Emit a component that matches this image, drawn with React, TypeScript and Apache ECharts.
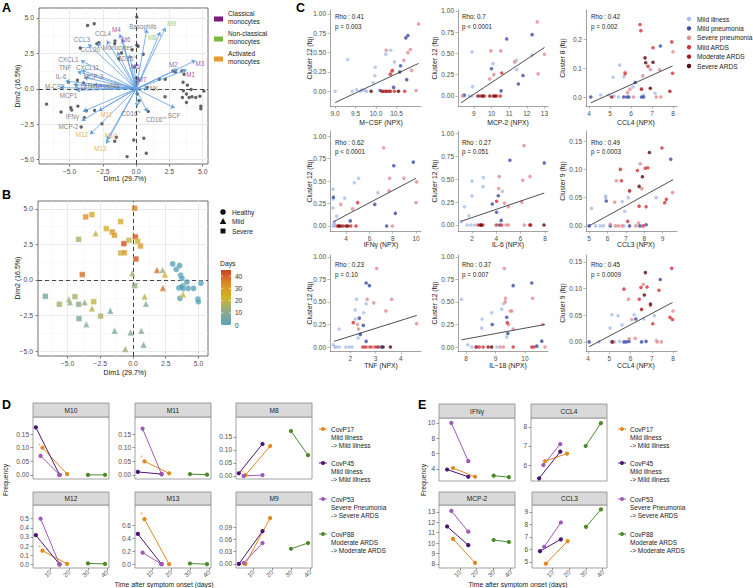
import React, { useEffect, useRef } from "react";
import * as echarts from "echarts";

const FONT = "'Liberation Sans', Arial, Helvetica, sans-serif";

// ================= Panel A : PCA biplot =================
// [name, group, arrowTipX, arrowTipY, labelX, labelY]
const pcaLoadings: [string, string, number, number, number, number][] = [
  ["Basophils", "var", 0.8, 4.2, 0.5, 4.4],
  ["M9", "non", 2.2, 4.3, 2.67, 4.64],
  ["M8", "non", 1.8, 4.0, 1.21, 3.65],
  ["M4", "cla", -1.23, 3.85, -1.49, 4.17],
  ["M6", "cla", -1.05, 3.5, -0.76, 3.47],
  ["CCL4", "var", -2.2, 3.4, -2.49, 3.89],
  ["CCL3", "var", -3.6, 3.15, -4.08, 3.47],
  ["CCL20", "var", -2.9, 3.25, -3.45, 2.76],
  ["Monocytes", "var", -1.4, 2.6, -1.39, 2.88],
  ["CD16^lo", "var", -0.5, 2.4, -0.68, 2.13],
  ["M5", "cla", -0.15, 1.7, -0.05, 1.55],
  ["M7", "cla", 0.2, 0.8, 0.45, 0.66],
  ["M2", "cla", 3.15, 1.4, 2.8, 1.71],
  ["M3", "cla", 4.45, 2.0, 4.79, 1.78],
  ["M1", "cla", 3.8, 1.35, 4.1, 1.03],
  ["NK", "var", 0.9, 0.02, 1.33, 0.0],
  ["SCF", "var", 2.9, -1.35, 2.85, -1.85],
  ["CD16^int", "var", 0.83, -1.62, 1.51, -2.13],
  ["CD16^hi", "var", 0.08, -1.26, -0.38, -1.73],
  ["M11", "act", -2.8, -1.55, -2.24, -1.8],
  ["M10", "act", -2.2, -3.6, -1.89, -3.26],
  ["M12", "act", -3.45, -3.2, -4.08, -3.21],
  ["M13", "act", -2.25, -3.85, -2.7, -4.24],
  ["MCP-2", "var", -4.1, -2.25, -5.09, -2.67],
  ["IFNγ", "var", -4.0, -1.6, -4.79, -1.97],
  ["MCP1", "var", -4.5, -0.1, -5.09, -0.44],
  ["M-CSF", "var", -5.7, 0.08, -6.1, 0.19],
  ["IL18", "var", -4.7, 0.3, -4.16, 0.16],
  ["Neutrophils", "var", -3.2, 0.3, -2.44, 0.26],
  ["IL-6", "var", -5.3, 0.55, -5.64, 0.89],
  ["TNF", "var", -4.4, 1.2, -5.34, 1.5],
  ["CXCL1", "var", -4.15, 2.0, -5.09, 2.06],
  ["CXCL11", "var", -4.1, 1.3, -3.65, 1.5],
  ["MCP-3", "var", -3.9, 0.8, -3.2, 0.89],
];

const pcaScores: number[][] = [
  [0.05, 5.06], [-3.65, 4.47], [-3.15, 4.59], [-1.59, 3.37], [-1.61, 3.18], [-2.8, 3.26], [-2.95, 3.18],
  [-4.2, 2.88], [0.05, 3.07], [0.15, 3.0], [0.53, 2.44], [-1.1, 2.53], [-1.31, 2.13], [-0.3, 2.76],
  [-0.13, 1.55], [0.03, 0.49], [0, 0.77], [1.74, 0.68], [2.19, 0.68], [2.77, 1.26], [2.95, 1.19],
  [3.43, 1.26], [3.6, 1.03], [3.53, 0.47], [3.85, 0.26], [4.13, -0.05], [3.55, -0.14], [3.78, -0.37],
  [3.98, -0.61], [4.2, -0.56], [4.48, -0.61], [3.48, -0.61], [3.78, -0.96], [4.86, -1.22], [4.86, -1.4],
  [5.09, -0.16], [4.79, -0.52], [2.17, -0.56], [-6.73, -1.08], [-5.64, -1.64], [-4.91, -1.33],
  [-4.84, -1.5], [-4.38, -1.22], [-3.75, -1.55], [-3.12, -1.52], [-3.9, -2.04], [-4.13, -2.69],
  [-2.57, -2.46], [-1.49, -3.42], [-1.61, -3.7], [-0.18, -3.61], [0.58, -3.49], [0.76, -4.54],
  [-0.68, -4.78], [0.08, -0.37], [0.23, -0.84], [0.91, -1.59], [-3.95, 0.42], [-5.09, 0.47],
  [0.83, 0.1], [-4.41, 0.61],
];

const pcaTicks = [-5, -2.5, 0, 2.5, 5];

// ================= Panel B : PCA individuals [Dim1, Dim2, days] =================
const bHealthy: number[][] = [
  [3.03, 1.13, 0], [3.31, 0.75, 0], [3.56, 1.01, 0], [3.64, 0.33, 0], [3.74, 0.12, 0], [4.12, -0.14, 0],
  [3.51, -0.56, 0], [3.82, -0.42, 0], [3.84, -0.61, 0], [4.22, -0.59, 0], [4.63, -0.59, 0], [5.19, -0.23, 0],
  [3.59, -1.29, 0], [4.96, -1.34, 0], [4.99, -1.53, 0], [3.7, -0.5, 0],
];
const bMild: number[][] = [
  [-2.85, 3.29, 20], [-0.05, 0.47, 15], [1.83, 0.7, 38], [2.26, 0.7, 12], [2.44, 0.38, 22], [2.29, -0.56, 38],
  [3.82, -1.0, 22], [0.89, -1.17, 18], [0.99, -1.67, 10], [-4.89, -1.36, 15], [-4.81, -1.57, 12],
  [-3.69, -1.57, 12], [-3.13, -2.0, 18], [-1.73, -2.16, 5], [-3.56, -3.12, 10], [-1.4, -3.57, 6],
  [-0.18, -3.69, 9], [0.64, -3.57, 10], [-0.59, -4.86, 14], [0.81, -4.55, 7],
];
const bSevere: number[][] = [
  [0.13, 5.05, 35], [-3.61, 4.44, 32], [-3.13, 4.6, 25], [-0.94, 4.11, 25], [-2.04, 3.62, 22], [-1.58, 3.38, 33],
  [-1.42, 3.15, 30], [-4.15, 2.86, 15], [-0.31, 2.79, 20], [0.18, 3.03, 42], [0.36, 2.72, 22], [0.58, 2.39, 30],
  [-0.69, 2.56, 42], [-0.94, 1.9, 20], [-0.66, 1.92, 30], [0.23, 1.48, 42], [-3.87, 0.38, 38], [0.13, -0.4, 12],
  [-6.69, -1.15, 5], [-5.62, -1.71, 15], [-4.43, -1.17, 15], [-4.15, -1.71, 10], [-3.0, -1.53, 20],
  [-4.12, -2.72, 7], [-2.47, -2.54, 17],
];
const dayColors = ["#5aa2b9", "#8fab8b", "#d2b327", "#e08a28", "#c8421f"];
const dayLegendTicks = [0, 10, 20, 30, 40];

// ================= Panel C : correlations [x, y, group] =================
const groupNames = ["Mild illness", "Mild pneumonia", "Severe pneumonia", "Mild ARDS", "Moderate ARDS", "Severe ARDS"];
const groupColors = ["#a9bfe9", "#3c4ea6", "#e28b8e", "#d2333a", "#a51519", "#5a0a0e"];

const mcsfPts = [
  [9.0, 0, 0], [9.31, 0.41, 0], [9.42, 0, 0], [9.53, 0.02, 0], [9.62, 0, 0], [9.66, 0.02, 0], [9.73, 0.01, 0], [9.77, 0, 0],
  [9.93, 0.11, 0], [9.97, 0.2, 0], [9.98, 0.31, 0], [10.24, 0.48, 0], [10.36, 0.53, 0], [10.45, 0.38, 0],
  [10.73, 0.69, 1], [10.78, 0.72, 1], [10.75, 0.15, 1], [10.58, 0.25, 1], [10.6, 0.33, 1], [10.43, 0.05, 1], [10.1, 0.01, 1],
  [10.25, 0.53, 2], [10.375, 0.25, 2], [10.68, 0.4, 2], [10.78, 0.5, 2], [10.84, 0.54, 2], [11.04, 0.87, 2], [10.87, 0.27, 2], [10.98, 0.01, 2],
  [10.35, 0.22, 3], [10.4, 0.27, 3], [10.2, 0, 3], [10.3, 0, 3], [10.45, 0, 3], [10.7, 0, 3],
  [10.15, 0, 4], [10.25, 0, 4], [10.35, 0, 4],
  [9.88, 0, 5], [10.55, 0, 5],
];
const mcsfFit = [[9.0, -0.146], [11.04, 0.36]];

const mcp2Pts = [
  [8.42, 0, 0], [8.73, 0, 0], [8.88, 0, 0], [8.9, 0.52, 0], [8.92, 0.11, 0], [10.09, 0.38, 0], [11.42, 0.42, 0], [11.42, 0.31, 0], [12.3, 0.48, 0], [9.17, 0, 0],
  [8.45, 0.01, 1], [10.0, 0.32, 1], [10.86, 0.67, 1], [10.54, 0.06, 1], [12.3, 0.72, 1], [11.78, 0.24, 1], [11.52, 0.14, 1],
  [8.35, 0, 2], [9.96, 0.53, 2], [9.9, 0.2, 2], [10.13, 0.25, 2], [10.52, 0.53, 2], [12.59, 0.87, 2], [13.0, 0.49, 2], [12.64, 0.26, 2], [11.31, 0.4, 2],
  [10.58, 0.27, 3], [9.4, 0, 3], [9.6, 0, 3], [10.3, 0, 3], [10.5, 0, 3],
  [9.25, 0, 4], [9.9, 0, 4], [10.1, 0, 4],
  [9.5, 0, 5], [10.2, 0, 5],
];
const mcp2Fit = [[8.27, -0.08], [13.0, 0.57]];

const ccl4c8Pts = [
  [4.56, 0.007, 0], [5.15, 0.068, 0], [5.46, 0.11, 0], [5.66, 0.07, 0], [4.93, 0.007, 0], [5.2, 0.003, 0], [5.4, 0, 0], [6.1, 0.035, 0], [6.6, 0.007, 0], [7.15, 0.013, 0],
  [4.09, 0, 1], [5.65, 0, 1], [5.8, 0, 1], [5.9, 0, 1], [6.2, 0.05, 1], [6.5, 0, 1], [6.6, 0, 1], [7.4, 0.176, 1],
  [5.72, 0.085, 2], [5.84, 0.015, 2], [5.95, 0.027, 2], [6.12, 0, 2], [6.57, 0.073, 2], [6.92, 0.095, 2], [7.2, 0, 2], [7.42, 0, 2], [7.36, 0.094, 2], [8.0, 0.156, 2],
  [5.72, 0.08, 3], [6.43, 0.25, 3], [6.47, 0.229, 3], [6.81, 0.106, 3], [7.05, 0.17, 3], [7.94, 0.19, 3], [7.98, 0.082, 3],
  [5.08, 0, 4], [6.5, 0.027, 4], [7.85, 0.02, 4],
  [6.67, 0.135, 5], [6.7, 0.118, 5], [7.05, 0.12, 5], [6.92, 0.03, 5],
];
const ccl4c8Fit = [[4.09, -0.02], [7.98, 0.107]];

const ifngPts = [
  [2.87, 0.41, 0], [2.9, 0.3, 0], [2.87, 0.2, 0], [2.9, 0, 0], [2.95, 0.02, 0], [3.0, 0.04, 0], [2.92, 0.01, 0], [3.19, 0.11, 0], [3.88, 0.31, 0], [4.7, 0.48, 0], [5.07, 0.53, 0], [6.72, 0.37, 0], [3.05, 0, 0],
  [2.9, 0.32, 1], [4.35, 0.056, 1], [6.46, 0.24, 1], [7.48, 0, 1], [8.09, 0.67, 1], [8.23, 0.14, 1], [9.77, 0.71, 1],
  [3.54, 0.24, 2], [4.55, 0.19, 2], [7.22, 0.87, 2], [7.74, 0.53, 2], [7.68, 0.39, 2], [7.97, 0, 2], [8.96, 0.53, 2], [10.06, 0.49, 2], [10.0, 0.26, 2], [3.3, 0, 2],
  [4.99, 0.26, 3], [3.25, 0, 3], [3.5, 0, 3], [4.4, 0, 3], [4.84, 0, 3],
  [3.7, 0, 4], [3.97, 0, 4],
  [3.4, 0, 5], [4.14, 0, 5],
];
const ifngFit = [[2.87, 0.044], [10.0, 0.53]];

const il6Pts = [
  [1.1, 0.036, 0], [1.37, 0.2, 0], [1.75, 0.1, 0], [2.0, 0.48, 0], [2.0, 0.32, 0], [2.93, 0.52, 0], [2.9, 0.42, 0], [1.6, 0, 0], [1.9, 0, 0], [2.2, 0, 0], [4.5, 0.37, 0],
  [3.67, 0.23, 1], [4.02, 0.14, 1], [4.16, 0.32, 1], [4.4, 0.05, 1], [4.26, 0, 1], [5.12, 0.71, 1], [7.94, 0.68, 1],
  [4.2, 0.4, 2], [4.24, 0.53, 2], [4.67, 0.24, 2], [5.0, 0.2, 2], [5.0, 0, 2], [4.8, 0, 2], [6.27, 0.87, 2], [6.77, 0.53, 2], [6.17, 0.49, 2], [6.1, 0.25, 2], [6.3, 0, 2],
  [4.02, 0.26, 3], [2.5, 0, 3], [2.9, 0, 3], [4.0, 0, 3], [4.43, 0, 3], [6.75, 0, 3],
  [2.7, 0, 4], [6.82, 0, 4],
  [2.75, 0, 5], [7.92, 0, 5],
];
const il6Fit = [[1.1, 0.04], [7.94, 0.35]];

const ccl3Pts = [
  [5.13, 0.031, 0], [5.35, 0, 0], [5.6, 0, 0], [5.78, 0, 0], [5.9, 0.05, 0], [5.9, 0.053, 0], [6.8, 0.043, 0], [6.94, 0.026, 0], [7.13, 0.05, 0], [6.9, 0, 0], [8.65, 0.05, 0],
  [5.0, 0, 1], [5.93, 0.044, 1], [6.15, 0, 1], [7.2, 0, 1], [7.76, 0, 1], [8.1, 0.002, 1], [9.44, 0.118, 1],
  [6.15, 0.003, 2], [6.39, 0.042, 2], [6.48, 0.08, 2], [6.43, 0, 2], [6.6, 0, 2], [6.8, 0, 2], [7.54, 0, 2], [7.69, 0.005, 2], [7.78, 0.11, 2], [7.87, 0.066, 2], [9.54, 0.059, 2],
  [6.7, 0.1, 3], [6.76, 0.08, 3], [7.1, 0.008, 3], [7.63, 0.098, 3], [7.72, 0.035, 3], [8.05, 0.102, 3], [8.19, 0.103, 3], [8.1, 0.034, 3], [7.94, 0, 3], [8.96, 0.138, 3], [9.2, 0.047, 3], [9.11, 0.041, 3],
  [7.2, 0.062, 4],
  [7.72, 0.07, 5], [7.9, 0.087, 5], [8.28, 0.13, 5],
];
const ccl3Fit = [[5.0, 0], [9.57, 0.082]];

const tnfPts = [
  [1.33, 0.026, 0], [1.39, 0, 0], [1.45, 0, 0], [1.56, 0, 0], [1.83, 0, 0], [1.96, 0, 0], [1.56, 0.2, 0], [2.07, 0, 0], [2.25, 0.53, 0], [2.2, 0.41, 0], [2.2, 0.31, 0], [2.31, 0.1, 0], [2.53, 0.38, 0], [2.63, 0.48, 0], [3.2, 0, 0],
  [2.36, 0.32, 1], [2.4, 0.14, 1], [2.52, 0.24, 1], [2.63, 0.71, 1], [2.76, 0.68, 1], [2.63, 0.063, 1], [3.24, 0, 1],
  [2.29, 0.25, 2], [2.33, 0.2, 2], [2.67, 0.53, 2], [2.93, 0.49, 2], [3.05, 0.87, 2], [3.41, 0.4, 2], [3.64, 0.53, 2], [4.63, 0.26, 2], [2.7, 0, 2], [2.9, 0, 2],
  [2.12, 0.27, 3], [2.5, 0, 3], [2.6, 0, 3], [2.8, 0, 3], [3.0, 0, 3],
  [3.1, 0, 4],
  [3.3, 0, 5], [3.59, 0, 5],
];
const tnfFit = [[1.36, 0.063], [4.63, 0.35]];

const il18Pts = [
  [7.85, 0.53, 0], [8.06, 0.025, 0], [8.2, 0, 0], [8.53, 0.21, 0], [8.55, 0.31, 0], [8.87, 0.38, 0], [9.21, 0.42, 0], [9.27, 0.48, 0], [9.38, 0.11, 0], [9.05, 0, 0],
  [8.36, 0, 1], [8.89, 0.25, 1], [9.38, 0.33, 1], [9.42, 0.15, 1], [9.6, 0.68, 1], [10.23, 0.71, 1], [10.57, 0.065, 1], [10.4, 0.01, 1],
  [9.44, 0.25, 2], [9.3, 0.87, 2], [9.34, 0.54, 2], [9.33, 0.5, 2], [9.5, 0.4, 2], [9.6, 0.2, 2], [10.26, 0.54, 2], [9.55, 0.4, 2], [10.68, 0, 2], [10.6, 0.25, 2], [9.16, 0, 2], [9.27, 0, 2],
  [8.34, 0, 3], [8.45, 0, 3], [8.58, 0, 3], [9.4, 0.27, 3], [9.6, 0, 3], [10.23, 0, 3], [10.3, 0, 3],
  [8.75, 0, 4],
  [8.87, 0, 5],
];
const il18Fit = [[7.85, 0.08], [10.68, 0.25]];

const ccl4c9Pts = [
  [4.51, 0, 0], [5.04, 0.026, 0], [5.12, 0.051, 0], [5.41, 0.049, 0], [5.6, 0.032, 0], [5.25, 0, 0], [5.49, 0.001, 0], [6.17, 0.051, 0], [6.62, 0.043, 0], [7.13, 0.049, 0], [7.21, 0.003, 0],
  [4.05, 0, 1], [5.12, 0, 1], [5.69, 0, 1], [5.8, 0, 1], [5.93, 0.001, 1], [6.25, 0.043, 1], [6.52, 0, 1], [6.73, 0.001, 1], [7.4, 0.117, 1],
  [5.9, 0.08, 2], [5.93, 0.006, 2], [6.06, 0.042, 2], [6.22, 0.007, 2], [6.6, 0.108, 2], [6.94, 0.068, 2], [7.26, 0, 2], [7.45, 0, 2], [8.0, 0.058, 2],
  [5.69, 0.099, 3], [6.41, 0.08, 3], [6.49, 0.102, 3], [6.78, 0.103, 3], [7.05, 0.034, 3], [7.34, 0.097, 3], [7.94, 0.138, 3], [7.86, 0.046, 3], [7.98, 0.042, 3],
  [5.15, 0, 4], [6.52, 0.061, 4],
  [6.7, 0.13, 5], [6.65, 0.088, 5], [6.94, 0.071, 5],
];
const ccl4c9Fit = [[4.05, -0.009], [7.98, 0.074]];

const qTicks = [0, 0.25, 0.5, 0.75, 1];

// ================= Panels D & E : longitudinal patients =================
const patientIds = ["CovP17", "CovP45", "CovP53", "CovP88"];
const patientCourse = [
  ["Mild illness", "-> Mild illness"],
  ["Mild illness", "-> Mild illness"],
  ["Severe Pneumonia", "-> Severe ARDS"],
  ["Moderate ARDS", "-> Moderate ARDS"],
];
const patientColors = ["#e08a1e", "#4b1673", "#a157b8", "#4c8a2b"];
const patientDays = [[6, 19], [2.5, 15], [5, 15], [30, 39]];
const starDay = 4.5;
const dayTicks = [10, 20, 30, 40];

const clusterNames = ["M10", "M11", "M8", "M12", "M13", "M9"];
const m10Freq = [[0.1, 0.003], [0.175, 0], [0.07, 0], [0, 0]];
const m11Freq = [[0.05, 0.006], [0.011, 0.003], [0.17, 0.003], [0.003, 0.001]];
const m8Freq = [[0.003, 0.115], [0.01, 0.123], [0, 0.003], [0.173, 0.08]];
const m12Freq = [[0.15, 0.005], [0.32, 0], [0.5, 0], [0.01, 0.005]];
const m13Freq = [[0.7, 0], [0.47, 0], [0.18, 0], [0.01, 0]];
const m9Freq = [[0, 0.112], [0, 0.08], [0.002, 0.051], [0.037, 0.051]];
const clusterStars = [0.115, 0.07, 0.02, 0.2, 0.8, 0.0];

const cytokineNames = ["IFNγ", "CCL4", "MCP-2", "CCL3"];
const ifngNpx = [[4.1, 2.95], [3.9, 2.95], [10.0, 5.0], [3.1, 2.9]];
const ccl4Npx = [[6.2, 6.6], [5.3, 6.7], [6.0, 7.1], [7.0, 8.2]];
const mcp2Npx = [[10.4, 8.1], [11.6, 9.8], [13.1, 11.1], [10.3, 10.1]];
const ccl3Npx = [[4.85, 6.65], [5.85, 6.8], [6.2, 8.15], [7.8, 9.2]];

// ---------------------------------------------------------------
function fmt(dec: number) {
  return (v: number) => {
    const s = Math.abs(v).toFixed(dec);
    return v < -1e-9 ? "\u2212" + s : s;
  };
}

function T(x: number, y: number, text: string, o: any = {}) {
  const align = o.align || "left";
  const va = o.va || "middle";
  return {
    type: "text",
    x,
    y,
    rotation: o.rot || 0,
    silent: true,
    z: 20,
    style: {
      text,
      fill: o.color || "#222",
      fontSize: o.size || 6.6,
      fontFamily: FONT,
      fontWeight: o.bold ? "bold" : "normal",
      textAlign: align,
      align,
      textVerticalAlign: va,
      verticalAlign: va,
    },
  };
}

function buildOption() {
  const grid: any[] = [];
  const xAxis: any[] = [];
  const yAxis: any[] = [];
  const series: any[] = [];
  const g: any[] = [];

  const addGrid = (l: number, t: number, w: number, h: number, border: string | null) => {
    grid.push({
      left: l, top: t, width: w, height: h,
      show: !!border, borderColor: border || "transparent", borderWidth: border ? 0.8 : 0,
      backgroundColor: "rgba(0,0,0,0)",
    });
    return grid.length - 1;
  };
  const axis = (gi: number, r: number[], ticks: number[], dec: number, o: any = {}) => ({
    type: "value", gridIndex: gi, min: r[0], max: r[1],
    axisLine: { show: !!o.line, onZero: false, lineStyle: { color: o.line || "#333", width: 0.8 } },
    axisTick: { show: o.ticks !== false, customValues: ticks, length: 2.5, lineStyle: { color: o.tickColor || "#333", width: 0.6 } },
    axisLabel: {
      show: o.labels !== false, customValues: ticks, formatter: fmt(dec),
      fontSize: o.fs || 6.5, fontFamily: FONT, color: "#4d4d4d", margin: o.margin ?? 4, rotate: o.rotate || 0,
    },
    splitLine: { show: false },
    minorSplitLine: { show: false },
  });
  const pcaBackground = (gi: number, xr: number[], yr: number[]) => {
    const d: any[] = [];
    const minor = [-6.25, -3.75, -1.25, 1.25, 3.75];
    minor.filter((v) => v > xr[0] && v < xr[1]).forEach((v) => d.push({ xAxis: v, lineStyle: { color: "#f2f2f2", width: 0.5, type: "solid" } }));
    minor.filter((v) => v > yr[0] && v < yr[1]).forEach((v) => d.push({ yAxis: v, lineStyle: { color: "#f2f2f2", width: 0.5, type: "solid" } }));
    pcaTicks.forEach((v) => d.push({ xAxis: v, lineStyle: { color: "#e4e4e4", width: 0.8, type: "solid" } }));
    pcaTicks.forEach((v) => d.push({ yAxis: v, lineStyle: { color: "#e4e4e4", width: 0.8, type: "solid" } }));
    d.push({ xAxis: 0, lineStyle: { color: "#333", width: 0.9, type: [4, 3] } });
    d.push({ yAxis: 0, lineStyle: { color: "#333", width: 0.9, type: [4, 3] } });
    series.push({
      type: "scatter", xAxisIndex: gi, yAxisIndex: gi, data: [[0, 0]], symbolSize: 0, silent: true, z: 1,
      markLine: { silent: true, symbol: ["none", "none"], label: { show: false }, data: d, animation: false, z: 1 },
    });
  };

  // ---------- Panel A ----------
  const gA = addGrid(39, 8, 169, 156, "#4d4d4d");
  xAxis.push(axis(gA, [-7.3, 5.4], pcaTicks, 1, { margin: 4, fs: 6.8 }));
  yAxis.push(axis(gA, [-5.3, 5.7], pcaTicks, 1, { margin: 5, fs: 6.8 }));
  pcaBackground(gA, [-7.3, 5.4], [-5.3, 5.7]);
  series.push({
    type: "scatter", xAxisIndex: gA, yAxisIndex: gA, data: pcaScores, symbolSize: 3.4,
    itemStyle: { color: "#3d3d3d" }, z: 2, silent: true,
  });
  series.push({
    type: "lines", coordinateSystem: "cartesian2d", xAxisIndex: gA, yAxisIndex: gA, z: 3, silent: true,
    symbol: ["none", "arrow"], symbolSize: 4,
    lineStyle: { color: "#5e9de0", width: 0.8, opacity: 1 },
    data: pcaLoadings.map((l) => ({ coords: [[0, 0], [l[2], l[3]]] })),
  });
  const loadColor: any = { var: "#5a5a5a", cla: "#8b1c8b", non: "#7fba3a", act: "#e8972f" };
  series.push({
    type: "scatter", xAxisIndex: gA, yAxisIndex: gA, symbolSize: 0, z: 4, silent: true,
    data: pcaLoadings.map((l) => ({ name: l[0], value: [l[4], l[5]], label: { color: loadColor[l[1]] } })),
    label: {
      show: true, position: "inside", fontSize: 6.3, fontFamily: FONT,
      formatter: (p: any) => {
        const n: string = p.name;
        if (n.indexOf("^") >= 0) {
          const parts = n.split("^");
          return parts[0] + "{s|" + parts[1] + "}";
        }
        return n;
      },
      rich: { s: { fontSize: 4.4, color: "#5a5a5a", fontFamily: FONT, padding: [0, 0, 4, 0] } },
    },
  });
  g.push(T(2, 8, "A", { size: 12.5, bold: true, color: "#000" }));
  g.push(T(17, 86, "Dim2 (16.5%)", { rot: Math.PI / 2, align: "center", size: 7, color: "#111" }));
  g.push(T(125, 178, "Dim1 (29.7%)", { align: "center", size: 7, color: "#111" }));
  // legend A
  const aLegend = [
    ["#7d1b7e", "Classical", "monocytes", 13],
    ["#7ab83a", "Non-classical", "monocytes", 33],
    ["#e69a2e", "Activated", "monocytes", 53],
  ];
  aLegend.forEach((a: any) => {
    g.push({ type: "rect", silent: true, z: 20, shape: { x: 214, y: a[3] + 3.5, width: 9, height: 5 }, style: { fill: a[0] } });
    g.push(T(228, a[3], a[1], { size: 6.6 }));
    g.push(T(228, a[3] + 8.5, a[2], { size: 6.6 }));
  });

  // ---------- Panel B ----------
  const gB = addGrid(38, 201, 170, 155, "#4d4d4d");
  xAxis.push(axis(gB, [-7.25, 5.73], pcaTicks, 1, { margin: 4, fs: 6.8 }));
  yAxis.push(axis(gB, [-5.35, 5.56], pcaTicks, 1, { margin: 5, fs: 6.8 }));
  pcaBackground(gB, [-7.25, 5.73], [-5.35, 5.56]);
  const bStart = series.length;
  series.push({ type: "scatter", xAxisIndex: gB, yAxisIndex: gB, data: bHealthy, symbol: "circle", symbolSize: 6, z: 3, itemStyle: { borderColor: "rgba(255,255,255,0.6)", borderWidth: 0.5 } });
  series.push({ type: "scatter", xAxisIndex: gB, yAxisIndex: gB, data: bMild, symbol: "triangle", symbolSize: 6.5, z: 3, itemStyle: { borderColor: "rgba(255,255,255,0.6)", borderWidth: 0.5 } });
  series.push({ type: "scatter", xAxisIndex: gB, yAxisIndex: gB, data: bSevere, symbol: "rect", symbolSize: 5.6, z: 3, itemStyle: { borderColor: "rgba(255,255,255,0.6)", borderWidth: 0.5 } });
  g.push(T(2, 195, "B", { size: 12.5, bold: true, color: "#000" }));
  g.push(T(17, 278, "Dim2 (16.5%)", { rot: Math.PI / 2, align: "center", size: 7, color: "#111" }));
  g.push(T(125, 372, "Dim1 (29.7%)", { align: "center", size: 7, color: "#111" }));
  g.push({ type: "circle", silent: true, z: 20, shape: { cx: 223, cy: 212, r: 2.8 }, style: { fill: "#111" } });
  g.push({ type: "polygon", silent: true, z: 20, shape: { points: [[223, 218], [226.3, 224], [219.7, 224]] }, style: { fill: "#111" } });
  g.push({ type: "rect", silent: true, z: 20, shape: { x: 220.5, y: 228.5, width: 5, height: 5 }, style: { fill: "#111" } });
  g.push(T(232, 212, "Healthy", { size: 6.6 }));
  g.push(T(232, 221.5, "Mild", { size: 6.6 }));
  g.push(T(232, 231, "Severe", { size: 6.6 }));
  g.push(T(220, 263, "Days", { size: 6.8 }));
  const barTop = 270, barBottom = 325, barMax = 45;
  g.push({
    type: "rect", silent: true, z: 20, shape: { x: 221, y: barTop, width: 10, height: barBottom - barTop },
    style: {
      fill: {
        type: "linear", x: 0, y: 1, x2: 0, y2: 0,
        colorStops: dayColors.map((c, i) => ({ offset: i / (dayColors.length - 1), color: c })),
      },
    },
  });
  dayLegendTicks.forEach((d) => {
    const yy = barBottom - (d / barMax) * (barBottom - barTop);
    g.push({ type: "line", silent: true, z: 21, shape: { x1: 221, y1: yy, x2: 223, y2: yy }, style: { stroke: "#fff", lineWidth: 0.6 } });
    g.push({ type: "line", silent: true, z: 21, shape: { x1: 229, y1: yy, x2: 231, y2: yy }, style: { stroke: "#fff", lineWidth: 0.6 } });
    g.push(T(235, yy, String(d), { size: 6.5, color: "#333" }));
  });

  // ---------- Panel C ----------
  const cCols = [
    { left: 330, w: 91, ylabX: 309, xlabX: 381, textX: 335 },
    { left: 458, w: 90, ylabX: 434, xlabX: 508, textX: 462 },
    { left: 586, w: 91, ylabX: 562, xlabX: 636, textX: 591 },
  ];
  const cRows = [
    { top: 10, h: 96, xlabY: 122, ylabY: 58, textY: [16, 26] },
    { top: 131, h: 100, xlabY: 244, ylabY: 181, textY: [142, 151] },
    { top: 255, h: 96, xlabY: 365, ylabY: 303, textY: [264, 274] },
  ];
  const cPanels = [
    { pts: mcsfPts, fit: mcsfFit, xr: [8.875, 11.1], xt: [9, 9.5, 10, 10.5], xd: 1, yr: [-0.19, 1.05], yt: qTicks, yd: 2, xlab: "M\u2212CSF (NPX)", ylab: "Cluster 12 (fq)", rho: "Rho : 0.41", pv: "p = 0.003" },
    { pts: mcp2Pts, fit: mcp2Fit, xr: [8.1, 13.2], xt: [9, 10, 11, 12, 13], xd: 0, yr: [-0.118, 1.01], yt: qTicks, yd: 2, xlab: "MCP-2 (NPX)", ylab: "Cluster 12 (fq)", rho: "Rho: 0.7", pv: "p < 0.0001" },
    { pts: ccl4c8Pts, fit: ccl4c8Fit, xr: [3.86, 8.19], xt: [4, 5, 6, 7, 8], xd: 0, yr: [-0.031, 0.3], yt: [0, 0.1, 0.2], yd: 1, xlab: "CCL4 (NPX)", ylab: "Cluster 8 (fq)", rho: "Rho : 0.42", pv: "p = 0.002" },
    { pts: ifngPts, fit: ifngFit, xr: [2.61, 10.43], xt: [4, 6, 8, 10], xd: 0, yr: [-0.056, 1.056], yt: qTicks, yd: 2, xlab: "IFN\u03b3 (NPX)", ylab: "Cluster 12 (fq)", rho: "Rho : 0.62", pv: "p < 0.0001" },
    { pts: il6Pts, fit: il6Fit, xr: [0.85, 8.25], xt: [2, 4, 6, 8], xd: 0, yr: [-0.066, 1.03], yt: qTicks, yd: 2, xlab: "IL-6 (NPX)", ylab: "Cluster 12 (fq)", rho: "Rho : 0.27", pv: "p = 0.051" },
    { pts: ccl3Pts, fit: ccl3Fit, xr: [4.83, 9.78], xt: [5, 6, 7, 8, 9], xd: 0, yr: [-0.009, 0.168], yt: [0, 0.05, 0.1, 0.15], yd: 2, xlab: "CCL3 (NPX)", ylab: "Cluster 9 (fq)", rho: "Rho : 0.49", pv: "p = 0.0003" },
    { pts: tnfPts, fit: tnfFit, xr: [1.2, 4.8], xt: [2, 3, 4], xd: 0, yr: [-0.044, 1.02], yt: qTicks, yd: 2, xlab: "TNF (NPX)", ylab: "Cluster 12 (fq)", rho: "Rho : 0.23", pv: "p = 0.10" },
    { pts: il18Pts, fit: il18Fit, xr: [7.73, 10.78], xt: [8, 9, 10], xd: 0, yr: [-0.044, 1.02], yt: qTicks, yd: 2, xlab: "IL\u221218 (NPX)", ylab: "Cluster 12 (fq)", rho: "Rho : 0.37", pv: "p = 0.007" },
    { pts: ccl4c9Pts, fit: ccl4c9Fit, xr: [3.9, 8.19], xt: [4, 5, 6, 7, 8], xd: 0, yr: [-0.017, 0.163], yt: [0, 0.05, 0.1, 0.15], yd: 2, xlab: "CCL4 (NPX)", ylab: "Cluster 9 (fq)", rho: "Rho : 0.45", pv: "p = 0.0009" },
  ];
  cPanels.forEach((cp, i) => {
    const col = cCols[i % 3];
    const row = cRows[Math.floor(i / 3)];
    const gi = addGrid(col.left, row.top, col.w, row.h, null);
    xAxis.push(axis(gi, cp.xr, cp.xt, cp.xd, { line: "#8a8a8a", tickColor: "#8a8a8a", margin: 3.5 }));
    yAxis.push(axis(gi, cp.yr, cp.yt, cp.yd, { line: "#8a8a8a", tickColor: "#8a8a8a", margin: 4 }));
    series.push({
      type: "scatter", xAxisIndex: gi, yAxisIndex: gi, symbolSize: 3.6, z: 3, silent: true,
      data: cp.pts.map((p) => ({ value: [p[0], p[1]], itemStyle: { color: groupColors[p[2]] } })),
    });
    series.push({
      type: "line", xAxisIndex: gi, yAxisIndex: gi, data: cp.fit, showSymbol: false, symbol: "none", silent: true,
      lineStyle: { color: "#222", width: 0.8 }, z: 4,
    });
    g.push(T(col.textX, row.textY[0], cp.rho, { size: 6.3, color: "#222" }));
    g.push(T(col.textX, row.textY[1], cp.pv, { size: 6.3, color: "#222" }));
    g.push(T(col.xlabX, row.xlabY, cp.xlab, { align: "center", size: 6.8, color: "#222" }));
    g.push(T(col.ylabX, row.ylabY, cp.ylab, { align: "center", size: 6.8, color: "#222", rot: Math.PI / 2 }));
  });
  g.push(T(296, 8, "C", { size: 12.5, bold: true, color: "#000" }));
  groupNames.forEach((nm, i) => {
    const yy = 19 + i * 9.4;
    g.push({ type: "circle", silent: true, z: 20, shape: { cx: 689, cy: yy, r: 2.2 }, style: { fill: groupColors[i] } });
    g.push(T(697, yy, nm, { size: 6.6, color: "#222" }));
  });

  // ---------- Panels D & E (facets) ----------
  const facet = (
    name: string, vals: number[][], star: number | null, left: number, top: number, w: number, h: number,
    headerH: number, xr: number[], yr: number[], yt: number[], yd: number, bottom: boolean,
  ) => {
    const gi = addGrid(left, top, w, h, "#8c8c8c");
    xAxis.push(axis(gi, xr, dayTicks, 0, { labels: bottom, ticks: bottom, rotate: 45, margin: 3, tickColor: "#555", fs: 6.3 }));
    yAxis.push(axis(gi, yr, yt, yd, { margin: 4, tickColor: "#555", fs: 6.5 }));
    vals.forEach((v, p) => {
      series.push({
        type: "line", xAxisIndex: gi, yAxisIndex: gi, silent: true, z: 3,
        data: [[patientDays[p][0], v[0]], [patientDays[p][1], v[1]]],
        symbol: "circle", symbolSize: 4.2, showSymbol: true,
        lineStyle: { color: patientColors[p], width: 1 }, itemStyle: { color: patientColors[p] },
      });
    });
    if (star !== null) {
      series.push({
        type: "scatter", xAxisIndex: gi, yAxisIndex: gi, symbolSize: 0, silent: true, z: 4,
        data: [[starDay, star]],
        label: { show: true, position: "inside", formatter: "*", fontSize: 8, color: "#e8a040", fontFamily: FONT, offset: [0, 1.5] },
      });
    }
    g.push({ type: "rect", silent: true, z: 19, shape: { x: left, y: top - headerH, width: w, height: headerH }, style: { fill: "#d9d9d9", stroke: "#8c8c8c", lineWidth: 0.8 } });
    g.push(T(left + w / 2, top - headerH / 2, name, { align: "center", size: 6.6, color: "#222" }));
  };

  const dVals = [m10Freq, m11Freq, m8Freq, m12Freq, m13Freq, m9Freq];
  const dLay = [
    { l: 33, t: 417, h: 62, hh: 14, yr: [-0.015, 0.213], yt: [0, 0.05, 0.1, 0.15], yd: 2 },
    { l: 135, t: 417, h: 62, hh: 14, yr: [-0.015, 0.213], yt: [0, 0.05, 0.1, 0.15], yd: 2 },
    { l: 236, t: 417, h: 62, hh: 14, yr: [-0.012, 0.227], yt: [0, 0.05, 0.1, 0.15], yd: 2 },
    { l: 33, t: 505, h: 63, hh: 13, yr: [-0.04, 0.65], yt: [0, 0.1, 0.2, 0.3, 0.4, 0.5], yd: 1 },
    { l: 135, t: 505, h: 63, hh: 13, yr: [-0.06, 0.92], yt: [0, 0.2, 0.4, 0.6], yd: 1 },
    { l: 236, t: 505, h: 63, hh: 13, yr: [-0.01, 0.144], yt: [0, 0.03, 0.06, 0.09], yd: 2 },
  ];
  clusterNames.forEach((nm, i) => {
    const L = dLay[i];
    facet(nm, dVals[i], clusterStars[i], L.l, L.t, 76, L.h, L.hh, [1, 41.1], L.yr, L.yt, L.yd, i >= 3);
  });

  const eVals = [ifngNpx, ccl4Npx, mcp2Npx, ccl3Npx];
  const eLay = [
    { l: 439, t: 418, w: 76, h: 63, hh: 14, yr: [2.4, 10.65], yt: [4, 6, 8, 10] },
    { l: 531, t: 418, w: 76, h: 63, hh: 14, yr: [5.16, 8.47], yt: [6, 7, 8] },
    { l: 439, t: 505, w: 76, h: 63, hh: 13, yr: [7.6, 13.67], yt: [8, 9, 10, 11, 12, 13] },
    { l: 532, t: 505, w: 75, h: 63, hh: 13, yr: [4.5, 9.55], yt: [5, 6, 7, 8, 9] },
  ];
  cytokineNames.forEach((nm, i) => {
    const L = eLay[i];
    facet(nm, eVals[i], null, L.l, L.t, L.w, L.h, L.hh, [-2.3, 42.6], L.yr, L.yt, 0, i >= 2);
  });

  g.push(T(2, 405, "D", { size: 12.5, bold: true, color: "#000" }));
  g.push(T(418, 405, "E", { size: 12.5, bold: true, color: "#000" }));
  g.push(T(5, 480, "Frequency", { rot: Math.PI / 2, align: "center", size: 6.8, color: "#222" }));
  g.push(T(423, 480, "Frequency", { rot: Math.PI / 2, align: "center", size: 6.8, color: "#222" }));
  g.push(T(164, 584, "Time after symptom onset (days)", { align: "center", size: 6.8, color: "#222" }));
  g.push(T(518, 584, "Time after symptom onset (days)", { align: "center", size: 6.8, color: "#222" }));

  const legendAt = (x0: number) => {
    const ys = [429, 463, 499, 534];
    patientIds.forEach((id, p) => {
      const yy = ys[p];
      g.push({ type: "line", silent: true, z: 20, shape: { x1: x0, y1: yy, x2: x0 + 8, y2: yy }, style: { stroke: patientColors[p], lineWidth: 1 } });
      g.push({ type: "circle", silent: true, z: 21, shape: { cx: x0 + 4, cy: yy, r: 2 }, style: { fill: patientColors[p] } });
      g.push(T(x0 + 12, yy, id, { size: 6.5, color: "#222" }));
      g.push(T(x0 + 12, yy + 8.4, patientCourse[p][0], { size: 6.5, color: "#222" }));
      g.push(T(x0 + 12, yy + 16.8, patientCourse[p][1], { size: 6.5, color: "#222" }));
    });
  };
  legendAt(319);
  legendAt(618);

  return {
    animation: false,
    backgroundColor: "#ffffff",
    textStyle: { fontFamily: FONT },
    grid, xAxis, yAxis, series,
    visualMap: [{
      type: "continuous", show: false, min: 0, max: barMax, dimension: 2,
      seriesIndex: [bStart, bStart + 1, bStart + 2],
      inRange: { color: dayColors },
    }],
    graphic: { elements: g },
  };
}

export default function App() {
  const ref = useRef<HTMLDivElement | null>(null);
  useEffect(() => {
    if (!ref.current) return;
    const chart = echarts.init(ref.current, null, { renderer: "svg" });
    chart.setOption(buildOption() as any);
    return () => chart.dispose();
  }, []);
  return (
    <div
      ref={ref}
      style={{ position: "fixed", left: 0, top: 0, width: 753, height: 588, background: "#ffffff" }}
    />
  );
}
